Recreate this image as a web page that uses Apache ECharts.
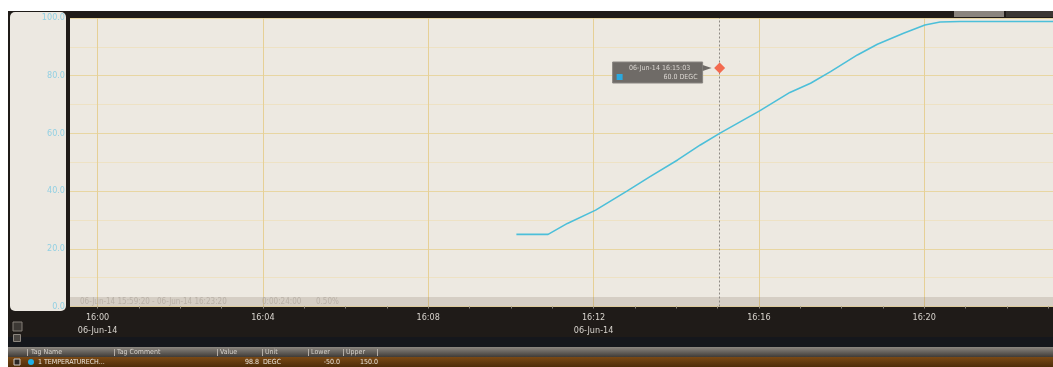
<!DOCTYPE html>
<html>
<head>
<meta charset="utf-8">
<script src="https://cdn.jsdelivr.net/npm/echarts@6/dist/echarts.min.js"></script>
<style>
  html, body { margin: 0; padding: 0; overflow: hidden; background: #ffffff; }
  #chart { width: 1062px; height: 367px; }
</style>
</head>
<body>
<div id="chart"></div>
<script>
// Trend of tag 1 (temperature) on 06-Jun-14
const dateLabel = '06-Jun-14';
const sampleTimes = ['16:10:08', '16:10:54', '16:11:22', '16:12:03', '16:12:49', '16:13:22', '16:14:02',
  '16:14:35', '16:15:03', '16:16:01', '16:16:45', '16:17:15', '16:17:44', '16:18:23', '16:18:52',
  '16:19:30', '16:20:01', '16:20:23', '16:20:52', '16:23:20'];
const temperatures = [25.0, 25.0, 28.8, 33.4, 40.1, 45.0, 50.8,
  56.0, 60.0, 67.8, 74.2, 77.4, 81.4, 87.2, 90.9,
  94.7, 97.6, 98.6, 98.8, 98.8];

const windowStart = '15:59:20';
const windowEnd = '16:23:20';
const windowSpan = '0:00:24:00';
const windowZoom = '0.50%';
const majorTimeTicks = ['16:00', '16:04', '16:08', '16:12', '16:16', '16:20'];
const datedTimeTicks = ['16:00', '16:12'];
const minuteTicks = ['16:00', '16:01', '16:02', '16:03', '16:04', '16:05', '16:06', '16:07', '16:08',
  '16:09', '16:10', '16:11', '16:12', '16:13', '16:14', '16:15', '16:16', '16:17', '16:18', '16:19',
  '16:20', '16:21', '16:22', '16:23'];
const valueTicks = [0, 20, 40, 60, 80, 100];

const cursorTime = '16:15:03';
const tagLabel = '1 TEMPERATURECH...';
const tagUnit = 'DEGC';
const tagLower = -50.0;
const tagUpper = 150.0;
const tableHeaders = ['Tag Name', 'Tag Comment', 'Value', 'Unit', 'Lower', 'Upper'];

function toMs(t) {
  const p = t.split(':');
  return Date.UTC(2014, 5, 6, +p[0], +p[1], +(p[2] || 0));
}
function pad(n) { return (n < 10 ? '0' : '') + n; }
function hhmm(v) {
  const d = new Date(v);
  return pad(d.getUTCHours()) + ':' + pad(d.getUTCMinutes());
}

const FONT = 'DejaVu Sans Condensed';
const points = sampleTimes.map((t, i) => [toMs(t), temperatures[i]]);
const cursorValue = temperatures[sampleTimes.indexOf(cursorTime)];

const chart = echarts.init(document.getElementById('chart'), null, { renderer: 'canvas' });

chart.setOption({
  backgroundColor: '#ffffff',
  animation: false,
  grid: {
    show: true, left: 70, right: 0, top: 18, bottom: 60.5,
    backgroundColor: '#ede9e1', borderWidth: 0, z: 0
  },
  xAxis: [{
    type: 'value', gridIndex: 0, position: 'bottom',
    min: toMs(windowStart), max: toMs(windowEnd),
    axisLine: { show: false },
    axisTick: { show: false, customValues: majorTimeTicks.map(toMs) },
    axisLabel: {
      customValues: majorTimeTicks.map(toMs),
      margin: 5, color: '#d8d4ce', fontSize: 9, fontFamily: FONT, lineHeight: 13,
      formatter: function (v) {
        const s = hhmm(v);
        return datedTimeTicks.indexOf(s) >= 0 ? s + '\n' + dateLabel : s;
      }
    },
    splitLine: { show: true, lineStyle: { color: '#e6d096', width: 1 } }
  }, {
    type: 'value', gridIndex: 0, position: 'bottom',
    min: toMs(windowStart), max: toMs(windowEnd),
    axisLine: { show: false },
    axisTick: { show: true, customValues: minuteTicks.map(toMs), length: 2, lineStyle: { color: '#8d877f', width: 1 } },
    axisLabel: { show: false },
    splitLine: { show: false }
  }],
  yAxis: {
    type: 'value', min: valueTicks[0], max: valueTicks[valueTicks.length - 1], interval: valueTicks[1] - valueTicks[0],
    axisLine: { show: false }, axisTick: { show: false },
    axisLabel: {
      margin: 5, color: '#93d0e3', fontSize: 9, fontFamily: FONT,
      formatter: v => v.toFixed(1)
    },
    splitLine: { show: true, lineStyle: { color: '#e8d6a2', width: 1 } },
    minorTick: { show: false, splitNumber: 2 },
    minorSplitLine: { show: true, lineStyle: { color: '#eee2c4', width: 1 } }
  },
  series: [{
    type: 'line', xAxisIndex: 0, yAxisIndex: 0,
    data: points, showSymbol: false, symbol: 'none',
    lineStyle: { color: '#4cbfd9', width: 1.6 },
    z: 5,
    markLine: {
      silent: true, symbol: 'none', animation: false,
      label: { show: false },
      lineStyle: { color: '#8e8983', width: 1, type: [2, 2] },
      data: [{ xAxis: toMs(cursorTime) }]
    }
  }]
});

// Frame, side panel, info strip, cursor readout and tag table
const cx = chart.convertToPixel({ xAxisIndex: 0 }, toMs(cursorTime));
const W = 1062;
const g = [];
// dark frame behind everything
g.push({ type: 'rect', z: -10, shape: { x: 8, y: 11, width: W - 8, height: 356 }, style: { fill: '#1f1b18' } });
g.push({ type: 'rect', z: -9, shape: { x: 8, y: 337, width: W - 8, height: 11 }, style: { fill: '#15171c' } });
// side panel holding the value scale
g.push({ type: 'rect', z: -8, shape: { x: 10, y: 12, width: 56, height: 299, r: 5 }, style: { fill: '#ece8e1' } });
// top-right status boxes
g.push({ type: 'rect', z: 20, shape: { x: 954, y: 11, width: 50, height: 6 }, style: { fill: '#8a847e' } });
g.push({ type: 'rect', z: 20, shape: { x: 1006, y: 11, width: 56, height: 6 }, style: { fill: '#3b3734' } });
// info strip along the bottom of the plot
g.push({ type: 'rect', z: 3, shape: { x: 70, y: 297, width: W - 70, height: 9.5 }, style: { fill: 'rgba(120,100,80,0.2)' } });
const stripStyle = { fill: '#b9b1a7', fontSize: 8, fontFamily: FONT, verticalAlign: 'middle' };
g.push({ type: 'text', z: 4, style: Object.assign({ x: 80, y: 301.5, text: dateLabel + ' ' + windowStart + ' - ' + dateLabel + ' ' + windowEnd }, stripStyle) });
g.push({ type: 'text', z: 4, style: Object.assign({ x: 262, y: 301.5, text: windowSpan }, stripStyle) });
g.push({ type: 'text', z: 4, style: Object.assign({ x: 316, y: 301.5, text: windowZoom }, stripStyle) });
// cursor readout
const bx = cx - 107, by = 62;
g.push({ type: 'rect', z: 30, shape: { x: bx, y: by, width: 90, height: 21 }, style: { fill: '#6f6b67', stroke: '#8a8682', lineWidth: 1 } });
g.push({ type: 'polygon', z: 30, shape: { points: [[bx + 90, by + 3], [cx - 8, by + 6], [bx + 90, by + 9]] }, style: { fill: '#6f6b67' } });
g.push({ type: 'text', z: 31, style: { x: bx + 47, y: by + 6.5, text: dateLabel + ' ' + cursorTime, fill: '#dcd8d3', fontSize: 7, fontFamily: FONT, align: 'center', verticalAlign: 'middle' } });
g.push({ type: 'rect', z: 31, shape: { x: bx + 4, y: by + 12, width: 6, height: 6 }, style: { fill: '#2aa9df' } });
g.push({ type: 'text', z: 31, style: { x: bx + 85, y: by + 15.5, text: cursorValue.toFixed(1) + ' ' + tagUnit, fill: '#dcd8d3', fontSize: 7, fontFamily: FONT, align: 'right', verticalAlign: 'middle' } });
g.push({ type: 'polygon', z: 32, shape: { points: [[cx, 62.5], [cx + 5.5, 68], [cx, 73.5], [cx - 5.5, 68]] }, style: { fill: '#f36a4f' } });
// small toolbar icons under the side panel
g.push({ type: 'rect', z: 20, shape: { x: 13, y: 322, width: 9, height: 9 }, style: { fill: '#3c3834', stroke: '#847e77', lineWidth: 1 } });
g.push({ type: 'rect', z: 20, shape: { x: 13.5, y: 334.5, width: 7, height: 7 }, style: { fill: '#4a4642', stroke: '#8c867f', lineWidth: 1 } });
// table header
g.push({ type: 'rect', z: 20, shape: { x: 8, y: 347, width: W - 8, height: 10 }, style: { fill: new echarts.graphic.LinearGradient(0, 0, 0, 1, [{ offset: 0, color: '#8c8781' }, { offset: 1, color: '#3f3b37' }]) } });
const colX = [31, 117, 220, 265, 311, 346];
const sepX = [27, 114, 217, 262, 308, 343, 377];
sepX.forEach(x => g.push({ type: 'line', z: 21, shape: { x1: x + 0.5, y1: 349, x2: x + 0.5, y2: 356 }, style: { stroke: '#b4aea7', lineWidth: 1 } }));
tableHeaders.forEach((h, i) => g.push({ type: 'text', z: 21, style: { x: colX[i], y: 352.5, text: h, fill: '#d6d1cb', fontSize: 7, fontFamily: FONT, verticalAlign: 'middle' } }));
// table row for the tag
g.push({ type: 'rect', z: 20, shape: { x: 8, y: 357, width: W - 8, height: 10 }, style: { fill: new echarts.graphic.LinearGradient(0, 0, 0, 1, [{ offset: 0, color: '#7a4915' }, { offset: 1, color: '#4e2d09' }]) } });
g.push({ type: 'rect', z: 21, shape: { x: 14, y: 359, width: 6, height: 6 }, style: { fill: '#2b2724', stroke: '#cfc9c2', lineWidth: 1 } });
g.push({ type: 'circle', z: 21, shape: { cx: 31, cy: 362, r: 3 }, style: { fill: '#1fb1e8' } });
const rowStyle = { fill: '#ece5dc', fontSize: 7, fontFamily: FONT, verticalAlign: 'middle' };
g.push({ type: 'text', z: 21, style: Object.assign({ x: 38, y: 362.5, text: tagLabel }, rowStyle) });
g.push({ type: 'text', z: 21, style: Object.assign({ x: 259, y: 362.5, text: temperatures[temperatures.length - 1].toFixed(1), align: 'right' }, rowStyle) });
g.push({ type: 'text', z: 21, style: Object.assign({ x: 263, y: 362.5, text: tagUnit }, rowStyle) });
g.push({ type: 'text', z: 21, style: Object.assign({ x: 340, y: 362.5, text: tagLower.toFixed(1), align: 'right' }, rowStyle) });
g.push({ type: 'text', z: 21, style: Object.assign({ x: 360, y: 362.5, text: tagUpper.toFixed(1) }, rowStyle) });

chart.setOption({ graphic: { elements: g } });
</script>
</body>
</html>
